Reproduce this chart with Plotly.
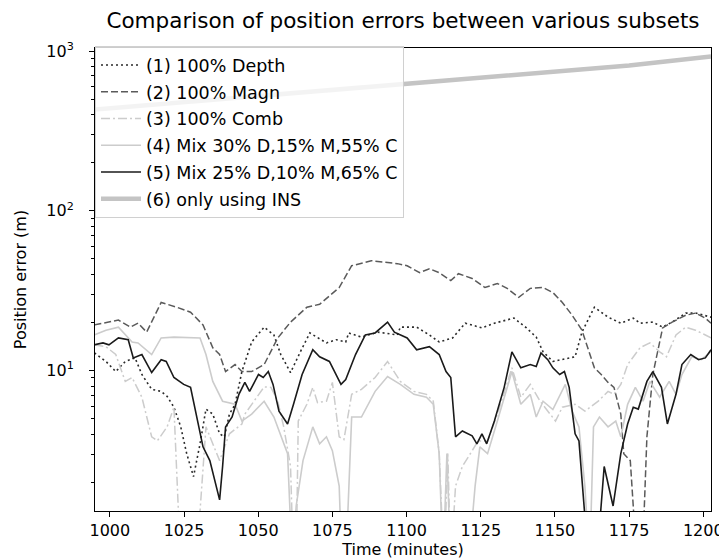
import plotly.graph_objects as go

# (1) 100% Depth
t_depth = [994.8, 998.7, 1002.0, 1005.2, 1008.5, 1010.8, 1014.1, 1017.3, 1019.3, 1021.6,
           1023.9, 1025.9, 1028.2, 1030.4, 1032.4, 1034.7, 1037.0, 1038.6, 1040.3, 1042.2,
           1044.5, 1047.8, 1052.0, 1055.3, 1057.6, 1060.9, 1064.2, 1067.4, 1073.0, 1076.3,
           1079.5, 1080.5, 1084.8, 1090.3, 1096.9, 1097.9, 1103.4, 1107.7, 1111.0, 1115.5,
           1119.8, 1125.4, 1129.6, 1136.2, 1140.4, 1143.7, 1146.0, 1149.3, 1156.8, 1159.1,
           1163.3, 1167.9, 1172.2, 1176.4, 1178.7, 1183.0, 1186.3, 1189.5, 1194.1, 1197.4, 1202.6]
v_depth = [12.9, 11.4, 9.86, 11.4, 12.0, 9.45, 7.63, 7.41, 6.9, 5.90,
           4.44, 3.02, 2.17, 3.48, 5.74, 5.34, 4.02, 3.85, 5.34, 6.15,
           9.86, 15.1, 18.7, 16.7, 12.6, 9.72, 13.1, 17.2, 14.9, 15.6,
           15.1, 17.2, 16.2, 17.4, 16.7, 18.7, 18.7, 16.7, 15.1, 16.0,
           19.8, 18.5, 19.8, 21.3, 18.5, 16.2, 13.1, 11.4, 12.2, 17.4,
           24.9, 21.6, 19.8, 21.3, 19.8, 20.1, 18.7, 20.1, 22.9, 22.9, 21.6]

# (2) 100% Magn
t_magn = [994.8, 1002.9, 1006.9, 1009.5, 1012.4, 1017.3, 1022.6, 1027.2, 1031.4, 1034.7,
          1037.0, 1039.0, 1042.2, 1044.5, 1047.8, 1052.0, 1056.6, 1060.9, 1066.4, 1070.7,
          1077.3, 1081.5, 1088.1, 1096.9, 1100.2, 1104.4, 1107.7, 1111.0, 1114.9, 1117.5,
          1122.1, 1126.4, 1130.6, 1133.9, 1137.8, 1141.7, 1146.0, 1149.3, 1152.5, 1155.8,
          1159.1, 1163.3, 1165.6, 1167.9, 1169.9, 1172.2, 1173.2, 1175.4, 1177.7, 1179.4,
          1181.0, 1183.0, 1186.3, 1189.5, 1194.1, 1197.4, 1200.7, 1202.6]
v_magn = [19.3, 20.7, 18.7, 19.8, 17.4, 26.7, 24.9, 23.2, 19.3, 13.9,
          12.6, 9.86, 10.9, 9.86, 9.86, 10.9, 16.0, 20.1, 24.9, 26.0,
          33.1, 45.3, 48.7, 46.7, 45.3, 41.0, 43.4, 41.0, 36.6, 40.4,
          37.7, 33.1, 35.1, 32.7, 28.7, 32.7, 33.1, 30.8, 26.7, 22.2,
          17.9, 10.4, 9.45, 8.43, 7.85, 5.34, 3.02, 2.73, 0.6, 0.6,
          3.85, 9.45, 18.5, 20.1, 22.2, 22.9, 21.3, 19.8]

# (3) 100% Comb
t_comb = [994.8, 998.7, 1002.0, 1005.2, 1007.5, 1010.8, 1014.1, 1016.0, 1019.3, 1021.6,
          1023.9, 1029.1, 1032.4, 1037.0, 1040.3, 1044.5, 1045.5, 1050.1, 1052.0, 1054.3,
          1056.6, 1058.6, 1060.9, 1061.9, 1062.8, 1063.5, 1066.4, 1068.4, 1070.0, 1073.0,
          1075.0, 1077.3, 1078.9, 1081.5, 1084.8, 1089.4, 1093.6, 1097.9, 1102.5, 1106.7,
          1109.0, 1111.0, 1112.6, 1113.9, 1114.9, 1116.5, 1118.8, 1122.1, 1124.1, 1127.3,
          1130.6, 1135.5, 1138.5, 1141.7, 1145.0, 1150.2, 1152.5, 1156.8, 1160.1, 1164.6,
          1167.9, 1169.9, 1172.2, 1174.5, 1178.7, 1182.0, 1185.3, 1187.6, 1190.8, 1194.1,
          1197.4, 1200.7, 1202.6]
v_comb = [14.5, 14.1, 12.6, 8.55, 9.05, 6.81, 3.85, 3.63, 4.44, 5.90,
          0.6, 0.6, 4.44, 2.73, 4.02, 4.63, 5.34, 7.10, 7.9, 7.85,
          6.43, 4.44, 2.51, 0.6, 0.6, 4.83, 6.15, 7.85, 6.3, 6.43,
          8.43, 3.85, 3.7, 7.10, 7.63, 9.05, 11.4, 8.55, 7.41, 7.10,
          6.43, 3.02, 0.6, 3.02, 0.6, 1.89, 2.51, 3.15, 3.63, 3.63,
          5.34, 10.4, 6.81, 8.19, 6.43, 4.83, 5.90, 6.15, 5.57, 6.43,
          7.41, 7.10, 8.19, 10.9, 13.9, 14.9, 13.1, 12.2, 16.7, 18.7,
          17.9, 16.7, 16.0]

# (4) Mix 30% D,15% M,55% C
t_mix30 = [994.8, 998.7, 1002.9, 1007.5, 1009.5, 1014.1, 1017.3, 1021.6, 1030.4, 1032.4,
           1034.7, 1038.0, 1042.2, 1044.5, 1047.8, 1052.0, 1055.3, 1059.9, 1061.5, 1062.8,
           1065.1, 1068.4, 1070.7, 1073.0, 1075.0, 1077.3, 1078.2, 1079.5, 1081.5, 1084.8,
           1089.4, 1093.6, 1097.9, 1102.5, 1106.7, 1109.0, 1111.0, 1112.3, 1113.6, 1114.9,
           1120.8, 1123.1, 1124.7, 1127.3, 1130.6, 1135.5, 1138.5, 1141.7, 1143.7, 1146.0,
           1149.3, 1153.5, 1155.8, 1158.1, 1160.1, 1161.7, 1163.0, 1165.0, 1167.9, 1170.5,
           1172.2, 1174.5, 1177.1, 1179.7, 1182.0, 1185.3, 1188.5, 1190.8, 1192.8, 1196.1,
           1199.3, 1202.6]
v_mix30 = [16.7, 17.9, 18.7, 15.1, 14.9, 12.6, 16.0, 16.2, 16.0, 12.6,
           8.55, 6.43, 6.15, 4.83, 5.34, 6.43, 5.12, 3.02, 0.6, 1.42,
           2.73, 4.44, 3.48, 3.85, 3.15, 1.89, 0.6, 0.6, 5.12, 5.12,
           7.41, 9.18, 8.19, 7.10, 6.81, 6.15, 3.02, 0.6, 3.02, 0.6,
           0.6, 1.89, 3.33, 3.02, 4.83, 9.86, 6.15, 7.10, 5.12, 6.43,
           5.7, 8.19, 5.57, 4.44, 1.89, 0.6, 4.44, 5.12, 4.44, 4.83,
           3.85, 6.15, 7.85, 6.43, 8.55, 6.81, 8.55, 7.10, 9.45, 12.2,
           11.7, 13.1]

# (5) Mix 25% D,10% M,65% C
t_mix25 = [994.8, 997.7, 999.7, 1002.9, 1006.2, 1007.9, 1010.8, 1014.1, 1017.3, 1019.0,
           1021.6, 1024.9, 1027.2, 1029.1, 1031.4, 1033.7, 1035.7, 1037.0, 1038.0, 1039.0,
           1041.2, 1043.5, 1045.5, 1047.1, 1050.1, 1051.7, 1053.4, 1055.0, 1057.0, 1059.9,
           1061.9, 1064.8, 1068.4, 1070.7, 1074.0, 1077.9, 1079.5, 1082.8, 1086.1, 1089.4,
           1093.6, 1095.9, 1100.2, 1103.4, 1107.7, 1111.0, 1113.3, 1114.9, 1116.5, 1118.8,
           1122.1, 1123.7, 1125.4, 1127.0, 1129.6, 1132.9, 1135.5, 1138.5, 1141.7, 1143.7,
           1145.3, 1147.6, 1149.3, 1151.6, 1153.2, 1154.8, 1156.8, 1158.1, 1161.4, 1164.0,
           1166.6, 1169.6, 1172.2, 1174.5, 1176.4, 1178.1, 1181.0, 1183.0, 1185.9, 1187.9,
           1190.8, 1192.8, 1195.8, 1198.4, 1200.7, 1202.6]
v_mix25 = [14.5, 14.9, 14.5, 16.0, 15.6, 12.0, 12.6, 9.72, 11.7, 11.4,
           9.05, 8.19, 7.85, 5.34, 3.33, 2.73, 1.89, 1.55, 2.51, 4.44,
           5.12, 7.10, 8.43, 7.41, 9.45, 9.05, 9.86, 8.19, 5.57, 4.63,
           6.15, 9.45, 13.5, 12.2, 11.4, 8.19, 8.79, 12.6, 16.7, 17.2,
           20.1, 17.4, 16.0, 13.5, 14.1, 12.6, 9.86, 9.05, 3.85, 4.19,
           3.90, 3.48, 4.02, 3.48, 4.83, 7.85, 13.1, 10.4, 10.9, 10.6,
           12.9, 11.7, 10.4, 9.45, 9.86, 7.85, 4.02, 3.63, 0.6, 0.6,
           2.51, 1.42, 3.02, 4.63, 5.90, 5.74, 8.55, 9.86, 7.85, 4.63,
           7.10, 10.9, 12.6, 11.7, 12.0, 13.5]

# (6) only using INS
t_ins = [995.0, 1025, 1050, 1075, 1100, 1125, 1150, 1175, 1202.6]
v_ins = [431, 479, 523, 571, 624, 681, 743, 811, 924]

series = [
    ("(1) 100% Depth", t_depth, v_depth, "#2b2b2b", 1.6, "2px,3px"),
    ("(2) 100% Magn", t_magn, v_magn, "#5a5a5a", 1.5, "7px,3px"),
    ("(3) 100% Comb", t_comb, v_comb, "#cccccc", 1.5, "9px,3px,2px,3px"),
    ("(4) Mix 30% D,15% M,55% C", t_mix30, v_mix30, "#cccccc", 1.6, "solid"),
    ("(5) Mix 25% D,10% M,65% C", t_mix25, v_mix25, "#1a1a1a", 1.6, "solid"),
    ("(6) only using INS", t_ins, v_ins, "#c4c4c4", 4.5, "solid"),
]

fig = go.Figure()
for i, (name, t, v, color, width, dash) in enumerate(series):
    fig.add_trace(go.Scatter(
        x=t, y=v, name=name, mode="lines", legendgroup=str(i),
        line=dict(color=color, width=width, dash=dash),
    ))

minor_vals = [m * 10 ** e for e in range(0, 3) for m in range(2, 10)]

fig.update_layout(
    width=727, height=559,
    margin=dict(l=79, r=14, t=40, b=51),
    plot_bgcolor="white", paper_bgcolor="white",
    font=dict(family="DejaVu Sans", size=16, color="black"),
    title=dict(text="Comparison of position errors between various subsets",
               x=0.5, xanchor="center", y=0.992, yanchor="top",
               xref="paper", font=dict(size=21.5)),
    legend=dict(x=0.0, y=1.004, xanchor="left", yanchor="top", itemwidth=40,
                bgcolor="rgba(255,255,255,0.8)", bordercolor="#d0d0d0",
                borderwidth=1, tracegroupgap=1, font=dict(size=17.5)),
    xaxis=dict(range=[995, 1202.6], showgrid=False, zeroline=False,
               showline=True, linecolor="black", linewidth=1, mirror=True,
               ticks="outside", ticklen=5, tickcolor="black",
               tickvals=[1000, 1025, 1050, 1075, 1100, 1125, 1150, 1175, 1200],
               title=dict(text="Time (minutes)", standoff=4, font=dict(size=16))),
    yaxis=dict(type="log", range=[0.121, 3.019], showgrid=False, zeroline=False,
               showline=True, linecolor="black", linewidth=1, mirror=True,
               ticks="outside", ticklen=5, tickcolor="black", ticklabelstandoff=12,
               tickvals=[10, 100, 1000],
               ticktext=["10<sup>1</sup>", "10<sup>2</sup>", "10<sup>3</sup>"],
               minor=dict(ticks="outside", ticklen=3, tickcolor="black",
                          tickvals=minor_vals, showgrid=False),
               title=dict(text="Position error (m)", standoff=15, font=dict(size=16))),
)

fig.write_html("out.html")
